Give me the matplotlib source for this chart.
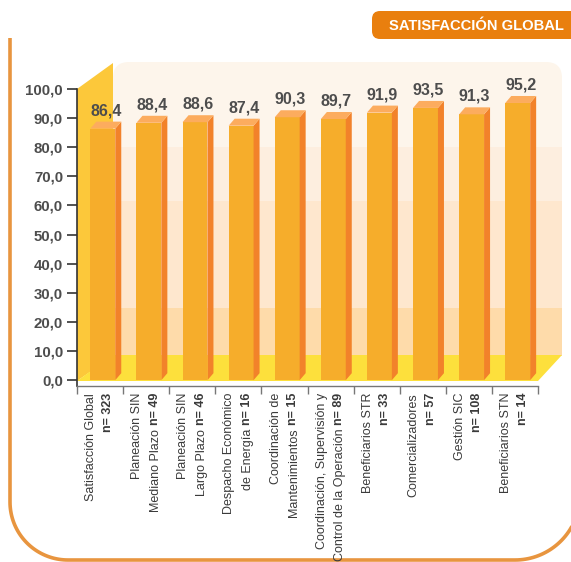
import numpy as np
import matplotlib
matplotlib.use("Agg")
import matplotlib.pyplot as plt
from matplotlib.patches import Polygon, Rectangle, FancyBboxPatch

plt.rcParams['font.family'] = ['Liberation Sans', 'DejaVu Sans']

# data
values = [86.4, 88.4, 88.6, 87.4, 90.3, 89.7, 91.9, 93.5, 91.3, 95.2]
line1 = ["Satisfacción Global", "Planeación SIN", "Planeación SIN", "Despacho Económico",
         "Coordinación de", "Coordinación, Supervisión y", "Beneficiarios STR",
         "Comercializadores", "Gestión SIC", "Beneficiarios STN"]
line2 = ["", "Mediano Plazo", "Largo Plazo", "de Energía", "Mantenimientos",
         "Control de la Operación", "", "", "", ""]
n_txt = ["n= 323", "n= 49", "n= 46", "n= 16", "n= 15", "n= 89", "n= 33", "n= 57",
         "n= 108", "n= 14"]
yticks = np.arange(0, 101, 10)
title = "SATISFACCIÓN GLOBAL"

W, H = 571, 562
fig = plt.figure(figsize=(W / 100, H / 100), dpi=100)

# background layer in pixel coordinates (walls, frame, title box)
bg = fig.add_axes([0, 0, 1, 1])
bg.set_xlim(0, W)
bg.set_ylim(H, 0)
bg.axis("off")

# back wall with rounded top
bg.add_patch(FancyBboxPatch((113, 62), 449, 293, boxstyle="round,pad=0,rounding_size=16",
                            fc="#FDF5EB", ec="none"))
bg.add_patch(Rectangle((113, 147), 449, 54, fc="#FDEEDF", ec="none"))
bg.add_patch(Rectangle((113, 201), 449, 107, fc="#FEE7CE", ec="none"))
bg.add_patch(Rectangle((113, 308), 449, 48, fc="#FEDBAA", ec="none"))
# left wall
bg.add_patch(Polygon([(77, 89), (113, 63), (113, 356), (77, 381)], closed=True,
                     fc="#FCC83A", ec="none"))
# floor
bg.add_patch(Polygon([(77, 381), (538, 381), (562, 355), (113, 355)], closed=True,
                     fc="#FDE03C", ec="none"))

# orange frame
t = np.linspace(0, np.pi / 2, 40)
fx = np.concatenate([[10, 10], 68 - 58 * np.cos(t), 515 + 65 * np.sin(t)])
fy = np.concatenate([[38, 502], 502 + 58 * np.sin(t), 495 + 65 * np.cos(t)])
bg.plot(fx, fy, color="#E8953F", lw=2.6, solid_capstyle="butt")

# title box
bg.add_patch(FancyBboxPatch((372, 11), 230, 28, boxstyle="round,pad=0,rounding_size=8",
                            fc="#E97F0E", ec="none"))
bg.text(476, 25.5, title, color="white", fontsize=10.6, fontweight="bold",
        ha="center", va="center")

# main chart
ax = fig.add_axes([77 / W, (H - 386) / H, 461 / W, 297 / H])
ax.set_facecolor("none")
ax.set_xlim(-0.5, 9.5)
ax.set_ylim(-2, 100)

x = np.arange(len(values))
off = 0.06
bw = 0.54
ddx, ddy = 0.13, 2.4

ax.bar(x + off, values, width=bw, color="#F6AD2B", zorder=3)
for xi, v in zip(x, values):
    x0 = xi + off - bw / 2
    x1 = xi + off + bw / 2
    ax.add_patch(Polygon([(x1, 0), (x1 + ddx, ddy), (x1 + ddx, v + ddy), (x1, v)],
                         closed=True, fc="#F2822A", ec="none", zorder=3))
    ax.add_patch(Polygon([(x0, v), (x1, v), (x1 + ddx, v + ddy), (x0 + ddx, v + ddy)],
                         closed=True, fc="#FCAC5E", ec="none", zorder=3))
    ax.text(xi + off + ddx / 2, v + ddy + 2.2, f"{v:.1f}".replace(".", ","),
            ha="center", va="baseline", fontsize=11.5, fontweight="bold", color="#4D4D4D")

# axes styling
for s in ["top", "right"]:
    ax.spines[s].set_visible(False)
ax.spines["left"].set_color("#333333")
ax.spines["left"].set_linewidth(1.2)
ax.spines["bottom"].set_color("#777777")
ax.spines["bottom"].set_linewidth(1.0)

ax.set_yticks(yticks)
ax.set_yticklabels([f"{v:.1f}".replace(".", ",") for v in yticks])
ax.tick_params(axis="y", length=7, width=1.2, color="#333333", pad=3,
               labelsize=10.8, labelcolor="#4D4D4D")
for lab in ax.get_yticklabels():
    lab.set_fontweight("bold")

ax.set_xticks(x)
ax.set_xticklabels([])
ax.tick_params(axis="x", which="major", length=0)
ax.set_xticks(np.arange(-0.5, 10, 1), minor=True)
ax.tick_params(axis="x", which="minor", length=6, width=1.0, color="#777777")

# category labels, rotated, two lines with bold sample size
for i in range(len(values)):
    ax.annotate(line1[i], xy=(i, 0), xycoords=("data", "axes fraction"),
                xytext=(-7.5, -5), textcoords="offset points", rotation=90,
                rotation_mode="anchor", ha="right", va="center_baseline",
                fontsize=9, color="#3A3A3A")
    bold = ax.annotate(n_txt[i], xy=(i, 0), xycoords=("data", "axes fraction"),
                       xytext=(5, -5), textcoords="offset points", rotation=90,
                       rotation_mode="anchor", ha="right", va="center_baseline",
                       fontsize=9, fontweight="bold", color="#3A3A3A")
    if line2[i]:
        ax.annotate(line2[i], xy=(0.5, 0), xycoords=bold,
                    xytext=(0, -2.5), textcoords="offset points", rotation=90,
                    rotation_mode="anchor", ha="right", va="center_baseline",
                    fontsize=9, color="#3A3A3A")

plt.savefig("out.png", dpi=100)
